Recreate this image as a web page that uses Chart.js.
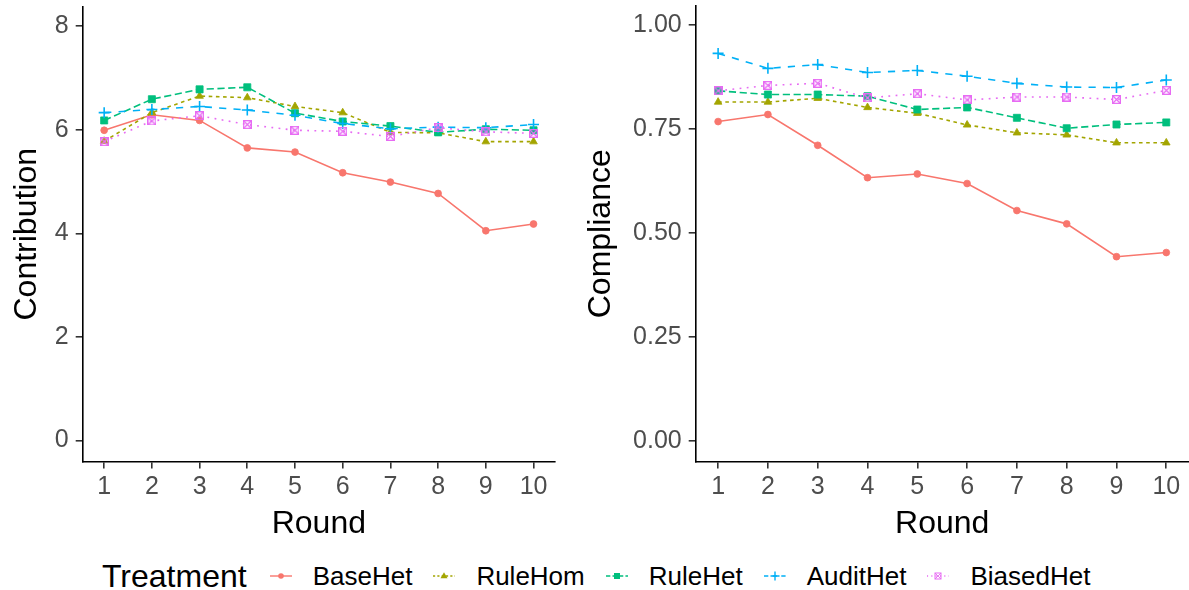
<!DOCTYPE html>
<html>
<head>
<meta charset="utf-8">
<script src="https://cdn.jsdelivr.net/npm/chart.js@4.4.0/dist/chart.umd.min.js"></script>
<style>
  body { margin: 0; background: #fff; width: 1189px; height: 590px; overflow: hidden; position: relative;
         font-family: "Liberation Sans", Arial, sans-serif; }
  #left { position: absolute; left: 0; top: 0; }
  #right { position: absolute; left: 575px; top: 0; }
  #legend { position: absolute; left: 102px; top: 556px; height: 40px; display: flex; align-items: center; }
  #legend .title { font-size: 32px; color: #000; margin-right: 23px; }
  #legend .item { display: flex; align-items: center; margin-right: 21px; }
  #legend .item span { font-size: 26px; color: #000; margin-left: 21px; }
</style>
</head>
<body>
<canvas id="left" width="575" height="545"></canvas>
<canvas id="right" width="614" height="545"></canvas>
<div id="legend"></div>
<script>
const rounds = [1, 2, 3, 4, 5, 6, 7, 8, 9, 10];
const treatments = ['BaseHet', 'RuleHom', 'RuleHet', 'AuditHet', 'BiasedHet'];

// Contribution by round
const contribBaseHet   = [5.99, 6.29, 6.18, 5.65, 5.57, 5.17, 4.99, 4.77, 4.05, 4.18];
const contribRuleHom   = [5.78, 6.33, 6.65, 6.62, 6.45, 6.33, 5.95, 5.94, 5.77, 5.77];
const contribRuleHet   = [6.18, 6.59, 6.78, 6.82, 6.32, 6.16, 6.07, 5.95, 6.01, 5.99];
const contribAuditHet  = [6.33, 6.39, 6.45, 6.38, 6.28, 6.12, 6.02, 6.05, 6.04, 6.10];
const contribBiasedHet = [5.77, 6.17, 6.27, 6.10, 5.99, 5.97, 5.87, 6.04, 5.96, 5.93];

// Compliance by round
const complBaseHet   = [0.768, 0.785, 0.711, 0.633, 0.642, 0.619, 0.554, 0.522, 0.443, 0.453];
const complRuleHom   = [0.815, 0.815, 0.824, 0.802, 0.788, 0.760, 0.741, 0.736, 0.717, 0.717];
const complRuleHet   = [0.842, 0.833, 0.833, 0.829, 0.797, 0.802, 0.777, 0.752, 0.761, 0.766];
const complAuditHet  = [0.932, 0.896, 0.905, 0.886, 0.891, 0.877, 0.860, 0.851, 0.850, 0.868];
const complBiasedHet = [0.842, 0.855, 0.860, 0.825, 0.835, 0.820, 0.827, 0.827, 0.821, 0.843];

const contribTicks = [0, 2, 4, 6, 8];
const complTicks = [0, 0.25, 0.5, 0.75, 1];

const colors = ['#F8766D', '#A3A500', '#00BF7D', '#00B0F6', '#E76BF3'];
const dashes = [[], [3.6, 3.6], [7.2, 3.6], [7.2, 7.2], [1.8, 5.4]];

function squareCross(color, s) {
  const c = document.createElement('canvas');
  c.width = c.height = s;
  const g = c.getContext('2d');
  g.strokeStyle = color;
  g.lineWidth = 1.3;
  g.strokeRect(0.65, 0.65, s - 1.3, s - 1.3);
  g.beginPath();
  g.moveTo(1, 1); g.lineTo(s - 1, s - 1);
  g.moveTo(s - 1, 1); g.lineTo(1, s - 1);
  g.stroke();
  return c;
}

const styles = ['circle', 'triangle', 'rect', 'cross', squareCross(colors[4], 9)];
const radii = [3.4, 4.4, 5, 5.5, 4.5];

function panel(id, yTitle, series, yMin, yMax, yTicks, digits, axisW, padRight, padTop, titlePad) {
  return new Chart(document.getElementById(id), {
    type: 'line',
    data: {
      datasets: treatments.map((t, i) => ({
        label: t,
        data: rounds.map((r, j) => ({ x: r, y: series[i][j] })),
        borderColor: colors[i],
        backgroundColor: colors[i],
        borderWidth: 1.6,
        borderDash: dashes[i],
        pointStyle: styles[i],
        pointRadius: radii[i],
        pointBorderWidth: i === 3 ? 1.6 : 0.8,
        tension: 0,
        order: treatments.length - i
      }))
    },
    options: {
      responsive: false,
      animation: false,
      layout: { autoPadding: false, padding: { top: padTop, right: padRight, left: 0, bottom: 0 } },
      plugins: { legend: { display: false }, tooltip: { enabled: false } },
      scales: {
        x: {
          type: 'linear', min: 0.55, max: 10.45,
          afterBuildTicks: s => { s.ticks = rounds.map(v => ({ value: v })); },
          afterFit: s => { s.height = 545 - 461.5; s.paddingLeft = 0; s.paddingRight = 0; },
          border: { display: true, color: '#000', width: 1.6 },
          grid: { display: true, drawOnChartArea: false, drawTicks: true, tickLength: 7, color: '#333', lineWidth: 1.6 },
          ticks: { font: { size: 25, family: 'Liberation Sans' }, color: '#4D4D4D', padding: 4, maxRotation: 0 },
          title: { display: true, text: 'Round', color: '#000', font: { size: 32, family: 'Liberation Sans' }, padding: { top: 0, bottom: 2 } }
        },
        y: {
          min: yMin, max: yMax,
          afterBuildTicks: s => { s.ticks = yTicks.map(v => ({ value: v })); },
          afterFit: s => { s.width = axisW; s.paddingTop = 0; s.paddingBottom = 0; },
          border: { display: true, color: '#000', width: 1.6 },
          grid: { display: true, drawOnChartArea: false, drawTicks: true, tickLength: 7, color: '#333', lineWidth: 1.6 },
          ticks: { font: { size: 25, family: 'Liberation Sans' }, color: '#4D4D4D', padding: 7,
                   callback: v => v.toFixed(digits) },
          title: { display: true, text: yTitle, color: '#000', font: { size: 32, family: 'Liberation Sans' }, padding: { top: titlePad } }
        }
      }
    }
  });
}

panel('left', 'Contribution',
  [contribBaseHet, contribRuleHom, contribRuleHet, contribAuditHet, contribBiasedHet],
  -0.405, 8.37, contribTicks, 0, 82.7, 20, 7, 8);
panel('right', 'Compliance',
  [complBaseHet, complRuleHom, complRuleHet, complAuditHet, complBiasedHet],
  -0.0496, 1.046, complTicks, 2, 120.7, 0.3, 6, 7);

// legend
const svgMarks = [
  c => `<circle cx="11" cy="10" r="2.8" fill="${c}"/>`,
  c => `<polygon points="11,6.2 14.5,12.2 7.5,12.2" fill="${c}"/>`,
  c => `<rect x="8" y="7" width="6" height="6" fill="${c}"/>`,
  c => `<path d="M11 5.5V14.5M6.5 10H15.5" stroke="${c}" stroke-width="1.4"/>`,
  c => `<rect x="8" y="7" width="6" height="6" fill="none" stroke="${c}" stroke-width="1"/><path d="M8 7L14 13M14 7L8 13" stroke="${c}" stroke-width="0.9"/>`
];
const legend = document.getElementById('legend');
let html = '<div class="title">Treatment</div>';
treatments.forEach((t, i) => {
  const dash = dashes[i].length ? `stroke-dasharray="${dashes[i].map(d => d * 0.6).join(' ')}"` : '';
  html += `<div class="item"><svg width="22" height="20"><line x1="0" y1="10" x2="22" y2="10" stroke="${colors[i]}" stroke-width="1.4" ${dash}/>${svgMarks[i](colors[i])}</svg><span>${t}</span></div>`;
});
legend.innerHTML = html;
</script>
</body>
</html>
